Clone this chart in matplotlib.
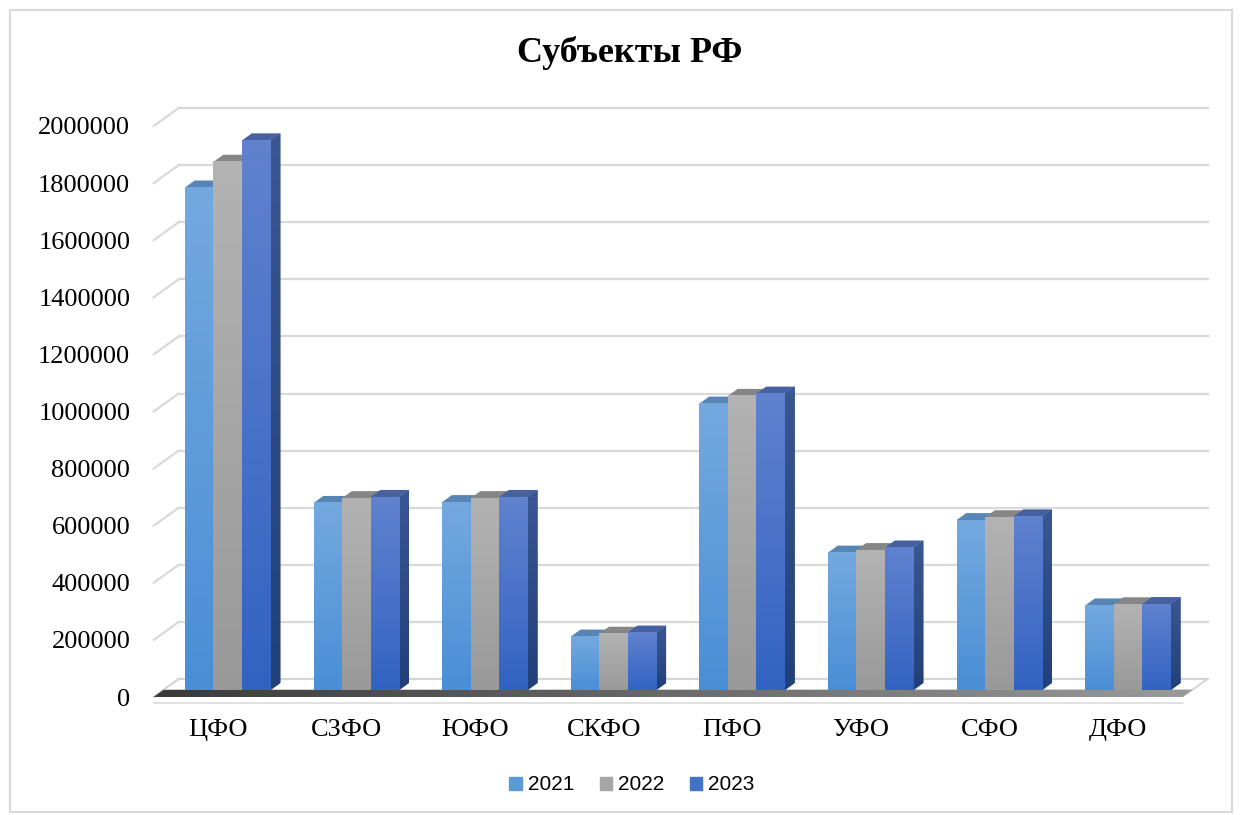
import numpy as np
import matplotlib
matplotlib.use('Agg')
import matplotlib.pyplot as plt
from matplotlib.patches import Polygon, Rectangle
from matplotlib.colors import LinearSegmentedColormap

# Данные
regions = ['ЦФО', 'СЗФО', 'ЮФО', 'СКФО', 'ПФО', 'УФО', 'СФО', 'ДФО']
years = ['2021', '2022', '2023']
v2021 = [1760000, 655000, 658000, 187000, 1003000, 481000, 595000, 296000]
v2022 = [1850000, 672000, 672000, 197000, 1030000, 490000, 605000, 300000]
v2023 = [1925000, 676000, 676000, 201000, 1038000, 499000, 608000, 301000]
yticks = np.arange(0, 2000001, 200000)

plt.rcParams['font.family'] = ['Liberation Serif', 'DejaVu Serif']

W, H = 1243, 815
fig = plt.figure(figsize=(W / 100, H / 100), dpi=100)

# геометрия осей в пикселях
px_x, x0_px = 128.6, 218        # пикселей на категорию, позиция категории 0
px_y, y0_px = 285.5e-6, 697     # пикселей на единицу значения, позиция нуля
left, right, top, bottom = 140, 1225, 95, 705
ax = fig.add_axes([left / W, 1 - bottom / H, (right - left) / W, (bottom - top) / H])

# псевдо-3D: смещение задней стенки
DX = 25 / px_x
DY = 18 / px_y
f1, f2 = 0.39, 0.78             # глубина передней и задней граней столбцов

# сетка на задней стенке и левая стенка
for v in yticks:
    ax.plot([-0.5, -0.5 + DX], [v, v + DY], color='#d9d9d9', lw=1.6, zorder=1)
    ax.plot([-0.5 + DX, 7.5 + DX], [v + DY, v + DY], color='#d9d9d9', lw=1.6, zorder=1)

# пол
floor_back = Polygon([(-0.5 + DX * f1, DY * f1), (7.5 + DX * f1, DY * f1),
                      (7.5 + DX, DY), (-0.5 + DX, DY)],
                     closed=True, facecolor='white', edgecolor='#d0d0d0', lw=1.2, zorder=2)
ax.add_patch(floor_back)
floor_front = Polygon([(-0.5, 0), (7.5, 0), (7.5 + DX * f1, DY * f1), (-0.5 + DX * f1, DY * f1)],
                      closed=True, facecolor='#5a5a5a', edgecolor='none', zorder=2.1)
ax.add_patch(floor_front)
fcm = LinearSegmentedColormap.from_list('fl', ['#3a3a3a', '#6a6a6a', '#9a9a9a'])
im = ax.imshow(np.linspace(0, 1, 256).reshape(1, -1), cmap=fcm, aspect='auto',
               extent=[-0.5, 7.5 + DX * f1, 0, DY * f1], zorder=2.2)
im.set_clip_path(floor_front)
ax.plot([-0.5, 7.5], [-6 / px_y, -6 / px_y], color='#dcdcdc', lw=1.2, zorder=2)

# столбцы
series = [v2021, v2022, v2023]
grad_top = ['#74A9DF', '#B3B3B3', '#6082CF']
grad_bot = ['#4A8ED6', '#999999', '#3263C2']
top_col = ['#5786B6', '#868686', '#45619F']
side_top = ['#3F6F9F', '#6e6e6e', '#3A5793']
side_bot = ['#2E5A88', '#5a5a5a', '#213F78']
legend_col = ['#5B9BD5', '#A5A5A5', '#4472C4']

bw = 0.222
x = np.arange(len(regions))
ddx = DX * (f2 - f1)
ddy = DY * (f2 - f1)
base = DY * f1

for j, vals in enumerate(series):
    xs = x + (j - 1) * bw + DX * f1
    bars = ax.bar(xs, vals, width=bw, bottom=base, color=grad_bot[j], edgecolor='none')
    cm = LinearSegmentedColormap.from_list('c%d' % j, [grad_bot[j], grad_top[j]])
    scm = LinearSegmentedColormap.from_list('s%d' % j, [side_bot[j], side_top[j]])
    for i, b in enumerate(bars):
        z = 3 + i * 0.1 + j * 0.02
        xl = b.get_x()
        xr = xl + b.get_width()
        h = b.get_height()
        side = Polygon([(xr, base), (xr, base + h), (xr + ddx, base + h + ddy), (xr + ddx, base + ddy)],
                       closed=True, facecolor=side_bot[j], edgecolor='none', zorder=z)
        ax.add_patch(side)
        sim = ax.imshow(np.linspace(0, 1, 256).reshape(-1, 1), cmap=scm, origin='lower', aspect='auto',
                        extent=[xr, xr + ddx, base, base + h + ddy], zorder=z + 0.001)
        sim.set_clip_path(side)
        topf = Polygon([(xl, base + h), (xr, base + h), (xr + ddx, base + h + ddy), (xl + ddx, base + h + ddy)],
                       closed=True, facecolor=top_col[j], edgecolor='none', zorder=z + 0.002)
        ax.add_patch(topf)
        b.set_zorder(z + 0.003)
        gim = ax.imshow(np.linspace(0, 1, 256).reshape(-1, 1), cmap=cm, origin='lower', aspect='auto',
                        extent=[xl, xr, base, base + h], zorder=z + 0.004)

ax.set_xlim((left - x0_px) / px_x, (right - x0_px) / px_x)
ax.set_ylim((y0_px - bottom) / px_y, (y0_px - top) / px_y)

ax.set_yticks(yticks)
ax.set_yticklabels([str(int(v)) for v in yticks], fontsize=19)
ax.set_xticks(x)
ax.set_xticklabels(regions, fontsize=19)
ax.tick_params(axis='both', length=0)
ax.tick_params(axis='y', pad=7)
ax.tick_params(axis='x', pad=10)
for s in ax.spines.values():
    s.set_visible(False)

fig.text(630 / W, 1 - 53 / H, 'Субъекты РФ', ha='center', va='center',
         fontsize=26, fontweight='bold')

handles = [Rectangle((0, 0), 1, 1, color=c) for c in legend_col]
fig.legend(handles, years, loc='center', bbox_to_anchor=(632 / W, 1 - 785 / H), ncol=3,
           frameon=False, prop={'family': 'Liberation Sans', 'size': 15},
           handlelength=0.6, handleheight=0.6, handletextpad=0.3, columnspacing=1.2)

fig.patches.append(Rectangle((10 / W, 3 / H), 1222 / W, 802 / H, transform=fig.transFigure,
                             fill=False, edgecolor='#d9d9d9', lw=1.5))

fig.savefig('out.png', dpi=100)
